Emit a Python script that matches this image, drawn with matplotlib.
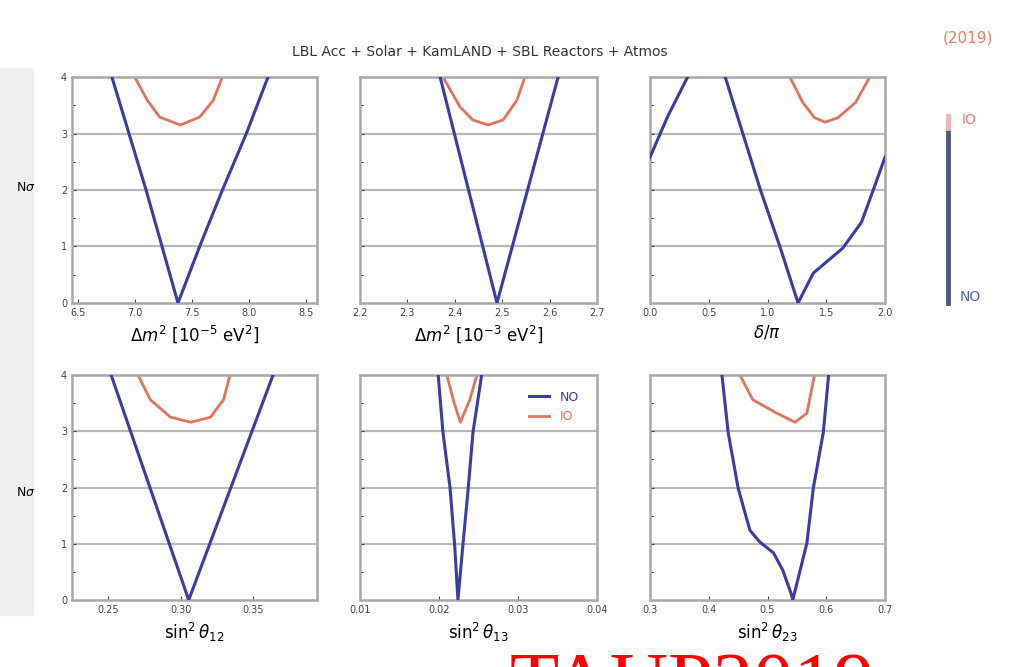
import matplotlib
matplotlib.use("Agg")
import matplotlib.pyplot as plt
from matplotlib.patches import Rectangle

# --- data (N sigma vs. parameter) ---
dm21_no_x = [6.80, 6.95, 7.10, 7.24, 7.38, 7.57, 7.77, 7.98, 8.17]
dm21_no_y = [4.0, 3.0, 2.0, 1.0, 0.0, 1.0, 2.0, 3.0, 4.0]
dm21_io_x = [7.00, 7.11, 7.22, 7.40, 7.57, 7.69, 7.77]
dm21_io_y = [4.0, 3.59, 3.29, 3.15, 3.29, 3.59, 4.0]

dm3l_no_x = [2.369, 2.489, 2.618]
dm3l_no_y = [4.0, 0.0, 4.0]
dm3l_io_x = [2.375, 2.411, 2.438, 2.470, 2.502, 2.531, 2.548]
dm3l_io_y = [4.0, 3.47, 3.24, 3.15, 3.24, 3.59, 4.0]

dcp_no_x = [0.0, 0.15, 0.32]
dcp_no_y = [2.58, 3.3, 4.0]
dcp_no2_x = [0.64, 0.94, 1.11, 1.26, 1.39, 1.64, 1.80, 1.90, 2.0]
dcp_no2_y = [4.0, 2.0, 0.97, 0.0, 0.53, 0.97, 1.43, 2.0, 2.58]
dcp_io_x = [1.19, 1.30, 1.40, 1.49, 1.60, 1.75, 1.87]
dcp_io_y = [4.0, 3.55, 3.28, 3.2, 3.28, 3.55, 4.0]

s12_no_x = [0.252, 0.3055, 0.3637]
s12_no_y = [4.0, 0.0, 4.0]
s12_io_x = [0.2705, 0.279, 0.293, 0.307, 0.3205, 0.3295, 0.334]
s12_io_y = [4.0, 3.56, 3.25, 3.16, 3.25, 3.56, 4.0]

s13_no_x = [0.0199, 0.0205, 0.0214, 0.0220, 0.0224, 0.0230, 0.0237, 0.0243, 0.0254]
s13_no_y = [4.0, 2.98, 1.99, 0.94, 0.0, 0.94, 1.99, 2.98, 4.0]
s13_io_x = [0.0210, 0.0218, 0.0227, 0.0239, 0.0248]
s13_io_y = [4.0, 3.56, 3.16, 3.56, 4.0]

s23_no_x = [0.4225, 0.433, 0.45, 0.47, 0.487, 0.51, 0.526, 0.54, 0.543,
            0.567, 0.578, 0.595, 0.604]
s23_no_y = [4.0, 2.98, 1.99, 1.24, 1.03, 0.84, 0.53, 0.12, 0.0,
            1.01, 1.99, 2.98, 4.0]
s23_io_x = [0.453, 0.475, 0.516, 0.547, 0.567, 0.58]
s23_io_y = [4.0, 3.56, 3.32, 3.16, 3.32, 4.0]

panels = [
    dict(no=[(dm21_no_x, dm21_no_y)], io=(dm21_io_x, dm21_io_y), xlim=(6.45, 8.6),
         xt=[6.5, 7.0, 7.5, 8.0, 8.5], xtl=["6.5", "7.0", "7.5", "8.0", "8.5"],
         xl=r"$\Delta m^2$ [10$^{-5}$ eV$^2$]"),
    dict(no=[(dm3l_no_x, dm3l_no_y)], io=(dm3l_io_x, dm3l_io_y), xlim=(2.2, 2.7),
         xt=[2.2, 2.3, 2.4, 2.5, 2.6, 2.7], xtl=["2.2", "2.3", "2.4", "2.5", "2.6", "2.7"],
         xl=r"$\Delta m^2$ [10$^{-3}$ eV$^2$]"),
    dict(no=[(dcp_no_x, dcp_no_y), (dcp_no2_x, dcp_no2_y)], io=(dcp_io_x, dcp_io_y), xlim=(0, 2),
         xt=[0, 0.5, 1.0, 1.5, 2.0], xtl=["0.0", "0.5", "1.0", "1.5", "2.0"],
         xl=r"$\delta/\pi$"),
    dict(no=[(s12_no_x, s12_no_y)], io=(s12_io_x, s12_io_y), xlim=(0.225, 0.394),
         xt=[0.25, 0.30, 0.35], xtl=["0.25", "0.30", "0.35"],
         xl=r"$\sin^2\theta_{12}$"),
    dict(no=[(s13_no_x, s13_no_y)], io=(s13_io_x, s13_io_y), xlim=(0.01, 0.04),
         xt=[0.01, 0.02, 0.03, 0.04], xtl=["0.01", "0.02", "0.03", "0.04"],
         xl=r"$\sin^2\theta_{13}$"),
    dict(no=[(s23_no_x, s23_no_y)], io=(s23_io_x, s23_io_y), xlim=(0.3, 0.7),
         xt=[0.3, 0.4, 0.5, 0.6, 0.7], xtl=["0.3", "0.4", "0.5", "0.6", "0.7"],
         xl=r"$\sin^2\theta_{23}$"),
]

NO_COL = "#3b3ba6"
IO_COL = "#e0735e"

W, H = 1021, 667
fig = plt.figure(figsize=(W / 100, H / 100), dpi=100)

# slide leftovers: grey strip on the left (kept behind everything)
fig.patches.append(Rectangle((0, 1 - 615 / H), 33 / W, (615 - 68) / H,
                             transform=fig.transFigure, color="#efefef", zorder=-10))

cols = [(72, 317), (360, 597), (650, 885)]
rows = [(77, 303), (375, 600)]

for i, p in enumerate(panels):
    r, c = divmod(i, 3)
    x0, x1 = cols[c]
    y0, y1 = rows[r]
    ax = fig.add_axes([x0 / W, 1 - y1 / H, (x1 - x0) / W, (y1 - y0) / H])
    ax.patch.set_alpha(0)
    for yy in [1, 2, 3, 4]:
        ax.axhline(yy, color="#b8b8b8", lw=1.6, zorder=1)
    for xs, ys in p["no"]:
        ax.plot(xs, ys, color=NO_COL, lw=2.2, zorder=3, label="NO")
    ax.plot(p["io"][0], p["io"][1], color=IO_COL, lw=2.0, zorder=2, label="IO")
    ax.set_xlim(*p["xlim"])
    ax.set_ylim(0, 4)
    ax.set_xticks(p["xt"])
    ax.set_xticklabels(p["xtl"])
    ax.set_yticks([0, 1, 2, 3, 4])
    ax.set_yticks([0.5, 1.5, 2.5, 3.5], minor=True)
    ax.tick_params(labelsize=7, colors="#444444", length=3, direction="in")
    ax.tick_params(which="minor", length=2, direction="in")
    if c != 0:
        ax.set_yticklabels([])
    for s in ax.spines.values():
        s.set_color("#a8a8a8")
        s.set_linewidth(1.8)
    ax.set_xlabel(p["xl"], fontsize=12, labelpad=4)
    if i == 4:
        h, l = ax.get_legend_handles_labels()
        ax.legend(h[:2], l[:2], loc="upper right", bbox_to_anchor=(0.97, 0.98),
                  frameon=False, fontsize=9, handlelength=1.6, labelcolor=[NO_COL, IO_COL])

# row labels
fig.text(26 / W, 1 - 187 / H, r"N$\sigma$", fontsize=9, ha="center", va="center")
fig.text(26 / W, 1 - 492 / H, r"N$\sigma$", fontsize=9, ha="center", va="center")

fig.text(480 / W, 1 - 52 / H, "LBL Acc + Solar + KamLAND + SBL Reactors + Atmos",
         ha="center", va="center", fontsize=10, color="#333333")

# right side: NO/IO marker bar and year label
fig.add_artist(plt.Line2D([948 / W, 948 / W], [1 - 303 / H, 1 - 128 / H],
                          color="#4d5a78", lw=3.5, transform=fig.transFigure))
fig.add_artist(plt.Line2D([948 / W, 948 / W], [1 - 128 / H, 1 - 116 / H],
                          color="#f3b5b5", lw=3.5, transform=fig.transFigure))
fig.text(962 / W, 1 - 120 / H, "IO", fontsize=10, color="#e07f7f", va="center")
fig.text(960 / W, 1 - 297 / H, "NO", fontsize=10, color="#4f62c4", va="center")
fig.text(943 / W, 1 - 38 / H, "(2019)", fontsize=11, color="#e8806a", va="center")

# bottom: red slide footer, cut by the page edge as in the source
fig.text(510 / W, -0.061, "TAUP2019", fontsize=58, color="red", family="Liberation Serif",
         ha="left", va="baseline")

fig.savefig("out.png", dpi=100)
